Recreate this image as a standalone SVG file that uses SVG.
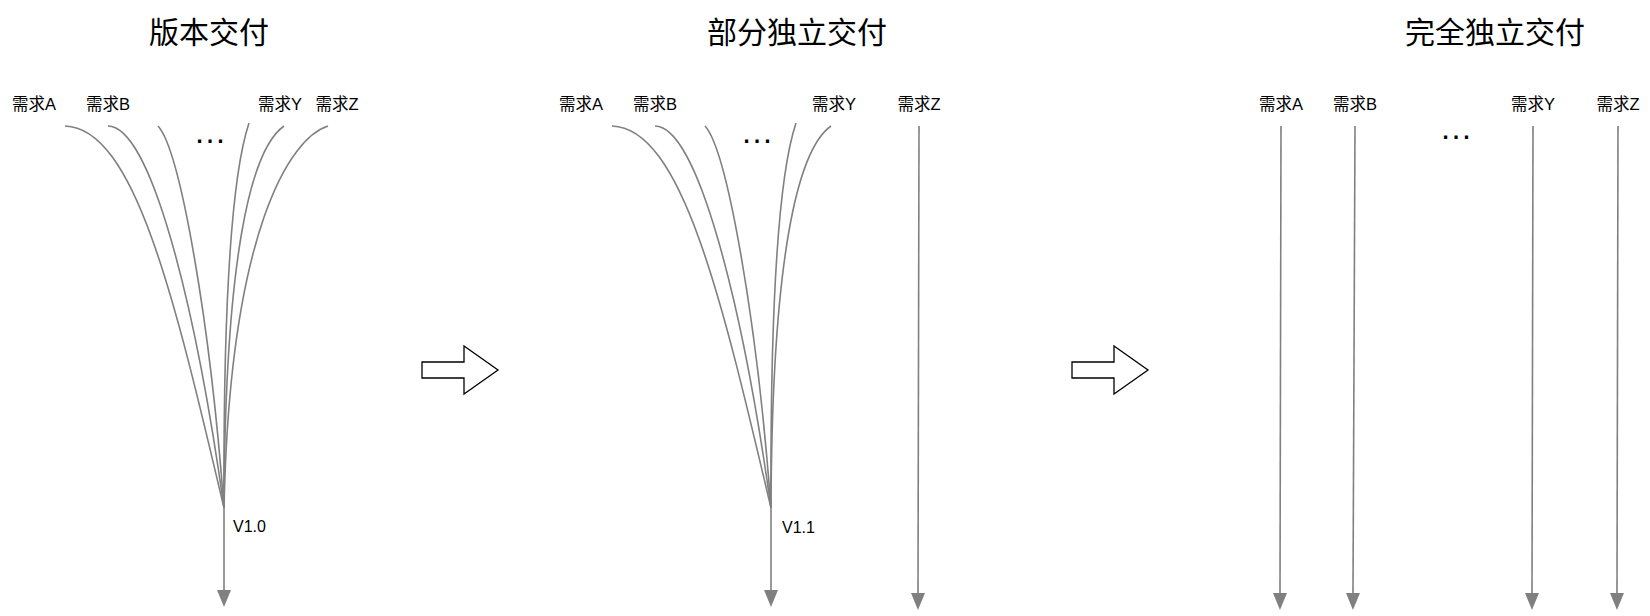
<svg xmlns="http://www.w3.org/2000/svg" width="1650" height="616" viewBox="0 0 1650 616">
<defs>
<style>
.title{font-family:"Liberation Sans","Noto Sans CJK SC",sans-serif;font-size:30px;fill:#000;text-anchor:middle}
.lbl{font-family:"Liberation Sans","Noto Sans CJK SC",sans-serif;font-size:16.5px;fill:#000;text-anchor:middle}
.ver{font-family:"Liberation Sans","Noto Sans CJK SC",sans-serif;font-size:16px;fill:#000}
.dots{font-family:"Liberation Sans",sans-serif;font-size:33px;fill:#000;text-anchor:middle}
.edge{fill:none;stroke:#808080;stroke-width:1.6}
.big{fill:#fff;stroke:#000;stroke-width:1.3}
</style>
<marker id="ah" markerUnits="userSpaceOnUse" markerWidth="18" markerHeight="14" viewBox="0 0 18 14" refX="0" refY="7" orient="auto">
<path d="M0,0 L17,7 L0,14 z" fill="#808080"/>
</marker>
</defs>
<rect width="1650" height="616" fill="#fff"/>

<g id="titles">
<text id="title1" class="title" x="209" y="43">版本交付</text>
<text id="title2" class="title" x="797" y="43">部分独立交付</text>
<text id="title3" class="title" x="1495" y="43">完全独立交付</text>
</g>

<g id="group1-labels">
<text id="g1-a" class="lbl" x="34" y="110">需求A</text>
<text id="g1-b" class="lbl" x="108" y="110">需求B</text>
<text id="g1-y" class="lbl" x="280" y="110">需求Y</text>
<text id="g1-z" class="lbl" x="337" y="110">需求Z</text>
<text id="g1-dots" class="dots" x="210" y="143">…</text>
<text id="g1-ver" class="ver" x="233" y="532">V1.0</text>
</g>

<g id="group2-labels">
<text id="g2-a" class="lbl" x="581" y="110">需求A</text>
<text id="g2-b" class="lbl" x="655" y="110">需求B</text>
<text id="g2-y" class="lbl" x="834" y="110">需求Y</text>
<text id="g2-z" class="lbl" x="919" y="110">需求Z</text>
<text id="g2-dots" class="dots" x="757" y="143">…</text>
<text id="g2-ver" class="ver" x="782" y="533">V1.1</text>
</g>

<g id="group3-labels">
<text id="g3-a" class="lbl" x="1281" y="110">需求A</text>
<text id="g3-b" class="lbl" x="1355" y="110">需求B</text>
<text id="g3-y" class="lbl" x="1533" y="110">需求Y</text>
<text id="g3-z" class="lbl" x="1618" y="110">需求Z</text>
<text id="g3-dots" class="dots" x="1456" y="139">…</text>
</g>

<g id="transition1">
<path class="big" d="M422,362 L464,362 L464,346 L498,370 L464,394 L464,378 L422,378 Z"/>
</g>
<g id="transition2">
<path class="big" d="M1072,362 L1114,362 L1114,346 L1148,370 L1114,394 L1114,378 L1072,378 Z"/>
</g>

<g id="connectors">
<path class="edge" d="M65,126 C135,128 175,300 224,508"/>
<path class="edge" d="M108,126 C150,126 195,300 224,508"/>
<path class="edge" d="M158,126 C180,150 210,320 224,508"/>
<path class="edge" d="M249,123 C235,165 223,260 224,508"/>
<path class="edge" d="M284,126 C250,150 225,260 224,508"/>
<path class="edge" d="M328,126 C290,138 230,230 224,508"/>
<path class="edge" d="M224,508 L224,590" marker-end="url(#ah)"/>

<path class="edge" d="M612,126 C682,128 722,300 771,508"/>
<path class="edge" d="M655,126 C697,126 742,300 771,508"/>
<path class="edge" d="M705,126 C727,150 757,320 771,508"/>
<path class="edge" d="M796,123 C782,165 770,260 771,508"/>
<path class="edge" d="M831,126 C797,150 772,260 771,508"/>
<path class="edge" d="M771,508 L771,590" marker-end="url(#ah)"/>
<path class="edge" d="M919,126 L918,593" marker-end="url(#ah)"/>

<path class="edge" d="M1281,126 L1280,593" marker-end="url(#ah)"/>
<path class="edge" d="M1355,126 L1353,593" marker-end="url(#ah)"/>
<path class="edge" d="M1533,126 L1532,593" marker-end="url(#ah)"/>
<path class="edge" d="M1618,126 L1617,593" marker-end="url(#ah)"/>
</g>
</svg>
